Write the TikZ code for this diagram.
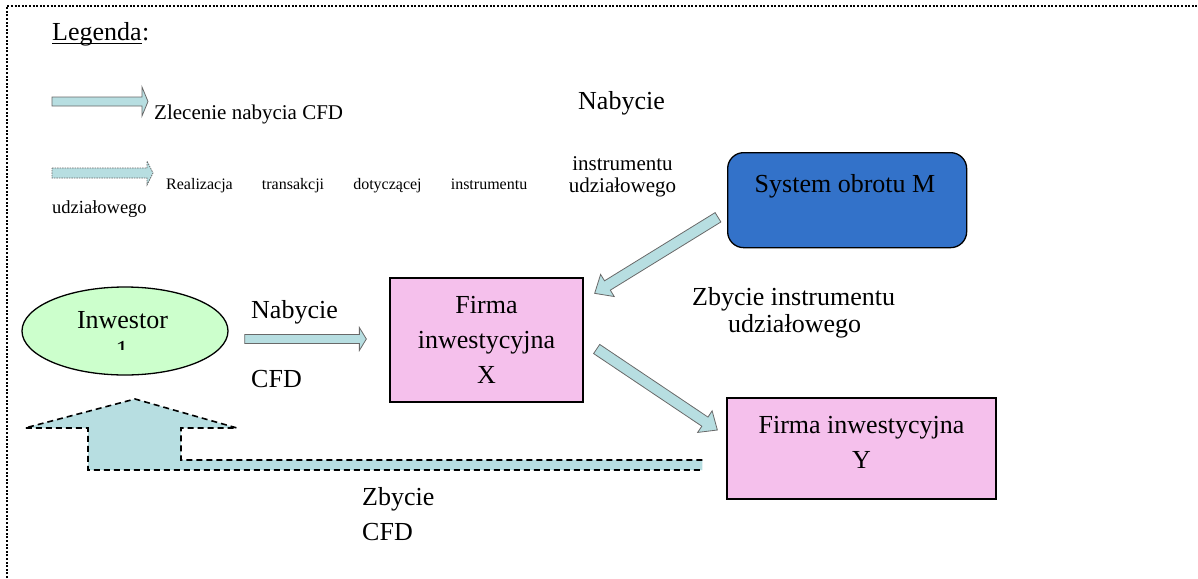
\documentclass[tikz,border=0pt]{standalone}
\usepackage{fontspec}
\setmainfont{Liberation Serif}
\usetikzlibrary{calc,shapes.geometric}

\definecolor{arrowfill}{RGB}{183,222,225}
\definecolor{arrowedge}{RGB}{105,105,105}
\definecolor{sysblue}{RGB}{51,114,201}
\definecolor{firmpink}{RGB}{245,192,236}
\definecolor{invgreen}{RGB}{204,255,204}

% block arrow: style, from, to, shaft half-width, head half-width, head length
\newcommand\blockarrow[6]{%
  \draw[#1] ($(#2)!#4!90:(#3)$)
    -- ($(#3)!#6!(#2)!#4!-90:(#2)$)
    -- ($(#3)!#6!(#2)!#5!-90:(#2)$)
    -- (#3)
    -- ($(#3)!#6!(#2)!#5!90:(#2)$)
    -- ($(#3)!#6!(#2)!#4!90:(#2)$)
    -- ($(#2)!#4!-90:(#3)$) -- cycle;}

\tikzset{
  big/.style={font=\fontsize{26}{35}\selectfont},
  mid/.style={font=\fontsize{21}{24}\selectfont},
  small/.style={font=\fontsize{16}{19}\selectfont},
  txt/.style={inner sep=0pt, anchor=base west},
  ctxt/.style={inner sep=0pt, anchor=base},
  solidarrow/.style={fill=arrowfill, draw=arrowedge, line width=0.8pt},
  dasharrow/.style={fill=arrowfill, draw=arrowedge, line width=0.7pt, dash pattern=on 1.5pt off 1pt},
  firmbox/.style={draw=black, line width=1.3pt, fill=firmpink, inner sep=0pt, big, align=center},
  frame/.style={line width=2pt, dash pattern=on 2pt off 1.6pt},
  returnline/.style={line width=1.6pt, dash pattern=on 6pt off 4pt},
}

\begin{document}
\begin{tikzpicture}[x=1pt, y=-1pt]
\useasboundingbox (0,0) rectangle (1198,578);

% dotted frame
\draw[frame] (7,578) -- (7,6) -- (1198,6);

% legend
\node[txt, big] (legword) at (52,41) {Legenda};
\node[txt, big] (legcolon) at (legword.base east) {:};
\draw[line width=1pt] ($(legword.base west)+(0,2.5)$) -- ($(legword.base east)+(0,2.5)$);

\coordinate (la1s) at (52,101.5);
\coordinate (la1e) at (148,101.5);
\blockarrow{solidarrow}{la1s}{la1e}{4.5pt}{14.5pt}{6pt}
\node[txt, mid] (leg1) at (154,119) {Zlecenie nabycia CFD};

\coordinate (la2s) at (52,173);
\coordinate (la2e) at (153,173);
\blockarrow{dasharrow}{la2s}{la2e}{5pt}{12pt}{6pt}
\node[txt, small] (leg2a) at (166,189) {\makebox[361pt][s]{Realizacja transakcji dotyczącej instrumentu}};
\node[txt, font=\fontsize{18.5}{22}\selectfont] (leg2b) at (52,213) {udziałowego};

% purchase of the equity instrument on the trading venue
\node[txt, big] (nabtop) at (578,109) {Nabycie};
\node[ctxt, mid] (inst1) at (622.5,170) {instrumentu};
\node[ctxt, mid] (inst2) at (622.5,192) {udziałowego};

\node[draw=black, line width=1.3pt, fill=sysblue, rounded corners=16pt,
      minimum width=239pt, minimum height=95pt, anchor=north west] (sys) at (727,152) {};
\node[ctxt, big] (systxt) at (845,192) {System obrotu M};

% investor
\node[ellipse, draw=black, line width=1.3pt, fill=invgreen,
      minimum width=206pt, minimum height=88pt] (inv) at (125,331) {};
\node[ctxt, big] (invtxt) at (122.5,328) {Inwestor};
\begin{scope}
  \clip (60,330) rectangle (190,349);
  \node[ctxt, big] (invnum) at (122,358.5) {1};
\end{scope}

% firm X
\node[firmbox, minimum width=193pt, minimum height=124pt] (fx) at (486.5,340)
  {Firma\\inwestycyjna\\X};

% CFD order
\node[txt, big] (nabcfd) at (251,318) {Nabycie};
\node[txt, big] (cfd1) at (251,387) {CFD};
\coordinate (nas) at ($(inv.east)+(16,8)$);
\coordinate (nae) at ($(fx.west)+(-23,-1)$);
\blockarrow{solidarrow}{nas}{nae}{4.5pt}{11.5pt}{7pt}

% trades in the equity instrument
\coordinate (d1s) at ($(sys.south west)+(-9,-31)$);
\coordinate (d1e) at ($(fx.north east)+(11,16)$);
\blockarrow{solidarrow}{d1s}{d1e}{5.5pt}{13pt}{15pt}

\node[txt, big] (zbinst) at (692,305) {Zbycie instrumentu};
\node[txt, big] (zbudz) at (728,332) {udziałowego};

\node[firmbox, minimum width=269pt, minimum height=101pt] (fy) at (861.5,448.5) {};
\node[ctxt, big] (fyt1) at (861.5,433) {Firma inwestycyjna};
\node[ctxt, big] (fyt2) at (861.5,468) {Y};

\coordinate (d2s) at ($(fx.east)+(13,9)$);
\coordinate (d2e) at ($(fy.west)+(-9,-18.5)$);
\blockarrow{solidarrow}{d2s}{d2e}{5.5pt}{13pt}{15pt}

% CFD disposal: wide dashed return arrow towards the investor
\coordinate (rt) at ($(fy.west)+(-24,11.5)$);
\coordinate (rb) at ($(fy.west)+(-24,21.5)$);
\coordinate (apex) at (135,399);
\fill[arrowfill] (rt) -- (181,460) -- (181,428) -- (237,428) -- (apex) -- (25,428)
  -- (88,428) -- (88,470) -- (rb) -- cycle;
\draw[returnline] (rt) -- (181,460) -- (181,428) -- (237,428) -- (apex) -- (25,428)
  -- (88,428) -- (88,470) -- (rb);

\node[txt, big] (zbcfd) at (362,505) {Zbycie};
\node[txt, big] (cfd2) at (362,540) {CFD};
\end{tikzpicture}
\end{document}
